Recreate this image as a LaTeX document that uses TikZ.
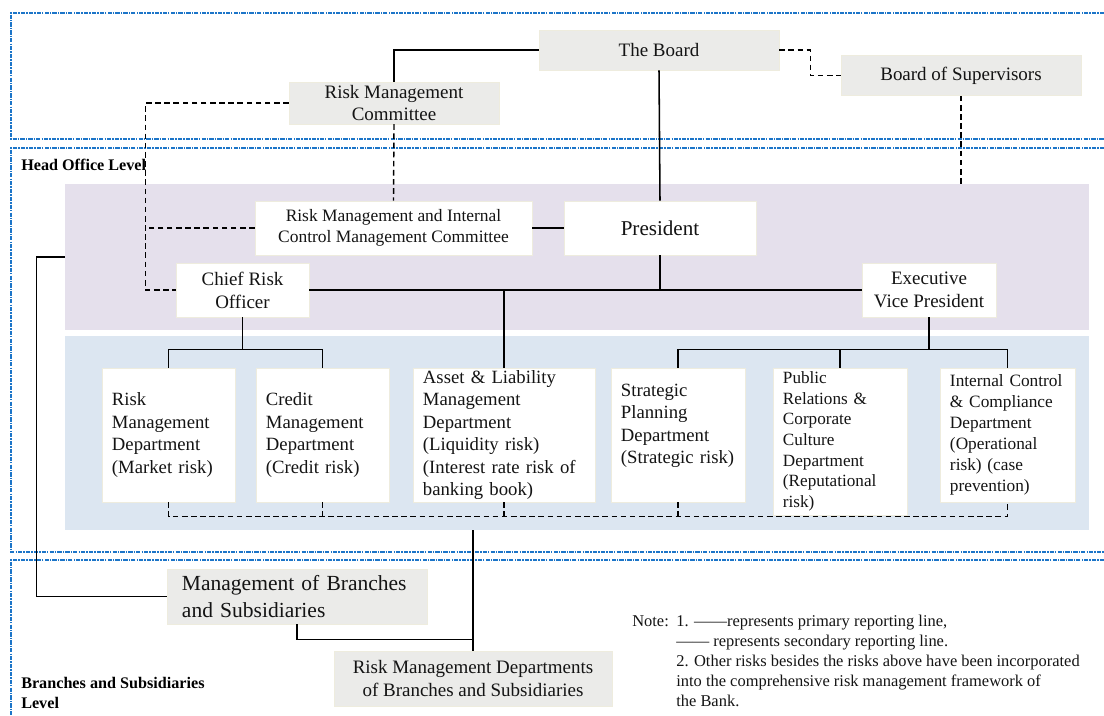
\documentclass[tikz,border=0pt]{standalone}
\usepackage{fontspec}
\setmainfont{Liberation Serif}
\definecolor{framecol}{RGB}{28,117,200}
\definecolor{boxgray}{RGB}{235,235,233}
\definecolor{boxedge}{RGB}{238,236,222}
\definecolor{hofill}{RGB}{229,224,236}
\definecolor{offill}{RGB}{220,230,241}
\definecolor{txt}{RGB}{20,20,20}
\begin{document}
\begin{tikzpicture}[x=0.025cm, y=-0.025cm,
    levelframe/.style={draw=framecol, line width=0.9pt, dash pattern=on 3pt off 0.8pt on 1pt off 0.8pt},
    band/.style={inner sep=0pt, minimum width=25.6cm},
    graybox/.style={draw=boxedge, fill=boxgray, text=txt, inner sep=2pt, align=center, font=\fontsize{13.5}{16.3}\selectfont},
    whitebox/.style={draw=boxedge, fill=white, text=txt, inner sep=2pt, align=center, font=\fontsize{13.5}{16.3}\selectfont},
    deptbox/.style={whitebox, align=left, inner xsep=0.25cm, inner ysep=0pt, minimum height=3.35cm, font=\fontsize{13.3}{16}\selectfont},
    priline/.style={draw=black, line width=1.1pt},
    secline/.style={draw=black, line width=1pt, dash pattern=on 4pt off 2.5pt},
    levellabel/.style={anchor=west, inner sep=0pt, align=left, text=black, font=\fontsize{11.5}{14}\selectfont\bfseries}]
  \useasboundingbox (0,0) rectangle (1104,716);

  % level frames
  \draw[levelframe] (1104,13) -| (11,139) -- (1104,139);
  \draw[levelframe] (1104,148) -| (11,552) -- (1104,552);
  \draw[levelframe] (1104,560) -| (11,716);
  \node[band, fill=hofill, minimum height=3.65cm] (hoband) at (577,257) {};
  \node[band, fill=offill, minimum height=4.85cm] (ofband) at (577,433) {};

  % board level
  \node[graybox, minimum width=6cm, minimum height=1cm] (board) at (659,50) {The Board};
  \node[graybox, minimum width=6cm, minimum height=1cm] (bos) at (961,75.5) {Board of Supervisors};
  \node[graybox, minimum width=5.25cm, minimum height=1cm] (rmc) at (394,103) {Risk Management\\Committee};

  % head office
  \node[levellabel] (holabel) at (21,165) {Head Office Level};
  \node[whitebox, minimum width=6.925cm, minimum height=1.35cm, font=\fontsize{12.4}{15.4}\selectfont] (rmic) at (393.5,228) {Risk Management and Internal\\Control Management Committee};
  \node[whitebox, minimum width=4.8cm, minimum height=1.35cm, font=\fontsize{15}{18}\selectfont] (pres) at (660,228) {President};
  \node[whitebox, minimum width=3.325cm, minimum height=1.35cm] (cro) at (242.5,290) {Chief Risk\\Officer};
  \node[whitebox, minimum width=3.35cm, minimum height=1.35cm] (evp) at (929,290) {Executive\\Vice President};

  % departments
  \node[deptbox, text width=2.825cm] (rmd) at (168.5,435) {Risk\\Management\\Department\\(Market risk)};
  \node[deptbox, text width=2.825cm] (cmd) at (322.5,435) {Credit\\Management\\Department\\(Credit risk)};
  \node[deptbox, text width=4.05cm] (ald) at (504,435) {Asset \& Liability\\Management\\Department\\(Liquidity risk)\\(Interest rate risk of\\banking book)};
  \node[deptbox, text width=2.85cm] (spd) at (678,435) {Strategic\\Planning\\Department\\(Strategic risk)\\\mbox{}};
  \node[deptbox, text width=2.85cm, minimum height=3.675cm, font=\fontsize{12.2}{14.7}\selectfont] (prd) at (840,441.5) {Public\\Relations \&\\Corporate\\Culture\\Department\\(Reputational\\risk)};
  \node[deptbox, text width=2.875cm, font=\fontsize{12.3}{15}\selectfont] (icd) at (1007.5,435) {Internal Control\\\& Compliance\\Department\\(Operational\\risk) (case\\prevention)};

  % branches and subsidiaries
  \node[graybox, align=left, text width=5.75cm, inner xsep=0.375cm, minimum height=1.375cm, font=\fontsize{15.3}{19.6}\selectfont] (mbs) at (297,596.5) {Management of Branches\\and Subsidiaries};
  \node[graybox, minimum width=6.95cm, minimum height=1.375cm] (rmdb) at (473,678.5) {Risk Management Departments\\of Branches and Subsidiaries};
  \node[levellabel] (bslabel) at (21,693) {Branches and Subsidiaries\\Level};

  % note
  \node[anchor=north west, inner sep=0pt, text=txt, font=\fontsize{11.7}{14.2}\selectfont] (note) at (632,612) {\begin{tabular}{@{}l@{}l@{}}\makebox[1.1cm][l]{Note:} & 1. ——represents primary reporting line,\\
      & —— represents secondary reporting line.\\
      & 2. Other risks besides the risks above have been incorporated\\
      & into the comprehensive risk management framework of\\
      & the Bank.\end{tabular}};

  % primary lines
  \draw[priline] (board.west) -| (rmc.north);
  \draw[priline] (board.south) -- (pres.north);
  \draw[priline] (rmic.east) -- (pres.west);
  \draw[priline] (cro.east) -- (evp.west);
  \draw[priline] (pres.south) -- (pres.south |- cro.east);
  \draw[priline] (ald.north) -- (ald.north |- cro.east);
  \draw[priline] (cro.south) -- ++(0,32) coordinate (crojoin);
  \draw[priline] (rmd.north) |- (crojoin) -| (cmd.north);
  \draw[priline] (evp.south) -- ++(0,32) coordinate (evpjoin);
  \draw[priline] (spd.north) |- (evpjoin) -| (icd.north);
  \draw[priline] (prd.north) -- (prd.north |- evpjoin);
  \draw[priline] (hoband.west) -- ++(-28,0) |- (mbs.west);
  \draw[priline] (rmdb.north |- ofband.south) -- (rmdb.north);
  \draw[priline] (mbs.south) -- ++(0,15) -| (rmdb.north);

  % secondary lines
  \draw[secline] (board.east) -- ++(31,0) |- (bos.west);
  \draw[secline] (bos.south) -- (bos.south |- hoband.north);
  \draw[secline] (rmc.south) -- (rmic.north);
  \draw[secline] (rmc.west) -- ++(-143,0) coordinate (crodash) |- (cro.west);
  \draw[secline] (rmic.west) -- (rmic.west -| crodash);
  \draw[secline] (rmd.south) -- ++(0,14) coordinate (deptdash) -| (icd.south);
  \foreach \d in {cmd,ald,spd}
    \draw[secline] (\d.south) -- (\d.south |- deptdash);
\end{tikzpicture}
\end{document}
